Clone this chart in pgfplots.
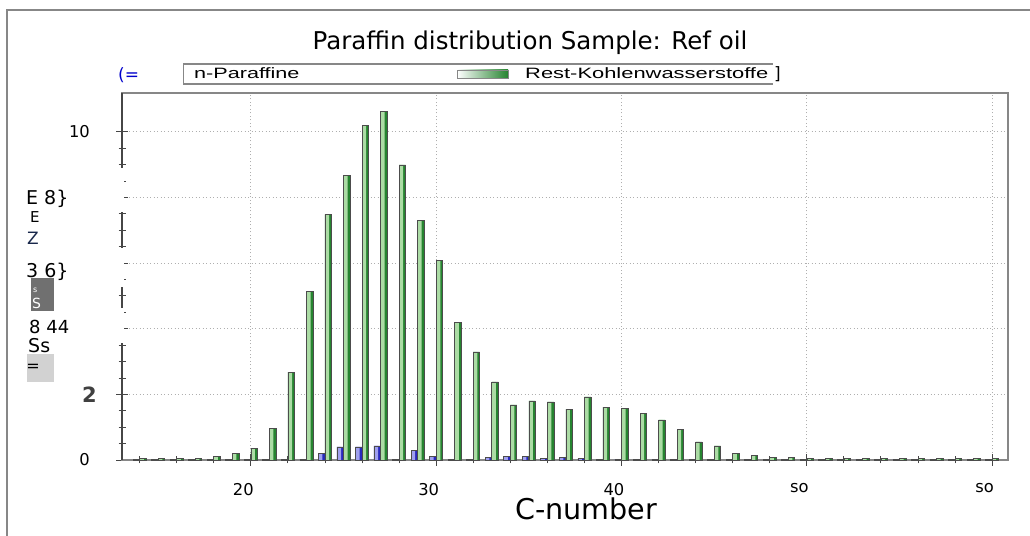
\documentclass[border=0pt]{standalone}
\usepackage{pgfplots}
\pgfplotsset{compat=1.18}
\usepackage{pgfplotstable}
\usepackage{fontspec}
\setmainfont{DejaVu Sans}
\newfontfamily\legfont{Liberation Sans}
\definecolor{gridgray}{RGB}{175,175,175}
\definecolor{framegray}{RGB}{135,135,135}
\definecolor{axdark}{RGB}{70,70,70}
\definecolor{barGreenL}{RGB}{172,220,165}
\definecolor{barGreenD}{RGB}{38,132,48}
\definecolor{barBlueL}{RGB}{160,160,238}
\definecolor{barBlueD}{RGB}{40,40,190}
\definecolor{boxdark}{RGB}{112,112,112}
\definecolor{boxlight}{RGB}{210,210,210}
\definecolor{navy}{RGB}{25,40,75}

\pgfplotstableread{
C  blue  green
14 0.02 0.05
15 0.02 0.04
16 0.02 0.05
17 0.02 0.06
18 0.03 0.10
19 0.03 0.20
20 0.03 0.35
21 0.02 0.97
22 0.02 2.68
23 0.02 5.14
24 0.20 7.48
25 0.40 8.66
26 0.40 10.19
27 0.43 10.62
28 0.02 8.99
29 0.30 7.31
30 0.10 6.09
31 0.03 4.20
32 0.02 3.29
33 0.08 2.38
34 0.10 1.68
35 0.10 1.80
36 0.05 1.77
37 0.08 1.55
38 0.04 1.92
39 0.03 1.61
40 0.03 1.58
41 0.02 1.43
42 0.02 1.22
43 0.02 0.94
44 0.02 0.55
45 0.02 0.43
46 0.02 0.21
47 0.02 0.13
48 0.02 0.08
49 0.02 0.07
50 0.02 0.05
51 0.02 0.04
52 0.02 0.04
53 0.02 0.04
54 0.02 0.04
55 0.02 0.04
56 0.02 0.04
57 0.02 0.04
58 0.02 0.04
59 0.02 0.04
60 0.02 0.04
}\paraffin

\begin{document}
\begin{tikzpicture}[x=1bp,y=1bp]
\useasboundingbox (0,0) rectangle (1030,536);
\fill[white] (0,0) rectangle (1030,536);
\draw[framegray, line width=1.5bp] (7,-5) -- (7,526) -- (1040,526);
\begin{axis}[
  at={(122bp,76bp)}, anchor=south west,
  scale only axis, width=886bp, height=367bp,
  xmin=13.05, xmax=60.86, ymin=0, ymax=11.18,
  ybar, bar width=0.35,
  xtick={10,20,...,60}, xticklabels={,20,30,40,so,so},
  minor x tick num=4,
  ytick={0,2,...,10},
  yticklabels={0,{\fontsize{21bp}{21bp}\bfseries\color{black!75}2\kern-7bp},,,,10},
  minor y tick num=3,
  tick align=center,
  major tick length=12bp, minor tick length=7bp,
  xtick pos=bottom, ytick pos=left,
  xmajorgrids, ymajorgrids,
  grid style={gridgray, dash pattern=on 1.2bp off 2.3bp, line width=0.8bp},
  axis line style={framegray, line width=1.3bp},
  tick style={axdark, line width=0.8bp},
  xticklabel style={font=\fontsize{16.3bp}{16bp}\selectfont, inner sep=0pt, xshift=-7.5bp, yshift=-17bp},
  yticklabel style={font=\fontsize{16.3bp}{16bp}\selectfont, inner sep=0pt, anchor=east, xshift=-26bp},
  /pgf/number format/assume math mode=true,
  clip=false,
]
% n-Paraffine: dark body, light left half, outline
\addplot[bar shift=-0.178, bar width=0.35, fill=barBlueD, draw=none]
  table[x=C, y=blue]{\paraffin};
\addplot[bar shift=-0.232, bar width=0.20, fill=barBlueL, draw=none]
  table[x=C, y=blue]{\paraffin};
\addplot[bar shift=-0.178, bar width=0.35, fill=none, draw=black!70, line width=0.6bp]
  table[x=C, y=blue]{\paraffin};
% Rest-Kohlenwasserstoffe: dark body, light left half, outline
\addplot[bar shift=0.178, bar width=0.35, fill=barGreenD, draw=none]
  table[x=C, y=green]{\paraffin};
\addplot[bar shift=0.124, bar width=0.20, fill=barGreenL, draw=none]
  table[x=C, y=green]{\paraffin};
\addplot[bar shift=0.178, bar width=0.35, fill=none, draw=black!70, line width=0.6bp]
  table[x=C, y=green]{\paraffin};
\end{axis}
% darker left axis line, as in the scan
\draw[axdark, line width=1.3bp] (122,76) -- (122,443);
% gaps of the scanned y axis
\fill[white] (106,324) rectangle (124,368);
\fill[white] (106,249) rectangle (124,288);
\fill[white] (106,193) rectangle (124,228);
% title and axis label
\node[anchor=base, inner sep=0pt, font=\fontsize{24.5bp}{26bp}\selectfont] at (530,486) {Paraffin distribution Sample: Ref oil};
\node[anchor=base, inner sep=0pt, font=\fontsize{28.6bp}{30bp}\selectfont] at (586,16) {C-number};
% legend
\draw[framegray, line width=1.8bp] (183,472) -- (773,472);
\draw[framegray, line width=1.2bp] (183,452) -- (773,452);
\draw[framegray, line width=0.8bp] (183,452) -- (183,472);
\node[anchor=base west, inner sep=0pt, font=\legfont\fontsize{15bp}{16bp}\selectfont] at (194,457) {\scalebox{1.44}[1]{n-Paraffine}};
\shade[left color=white, right color=barGreenD, draw=framegray, line width=0.6bp] (457,458) rectangle (508,466);
\node[anchor=base west, inner sep=0pt, font=\legfont\fontsize{15bp}{16bp}\selectfont] at (525,457) {\scalebox{1.46}[1]{Rest-Kohlenwasserstoffe}};
\node[anchor=base west, inner sep=0pt, font=\fontsize{17bp}{18bp}\selectfont] at (774,456) {]};
\node[anchor=base west, inner sep=0pt, font=\fontsize{17bp}{18bp}\selectfont, text=blue!80!black] at (118,455) {(=};
% scanned-label remnants on the left
\node[anchor=base west, inner sep=0pt, font=\fontsize{19bp}{20bp}\selectfont] at (26,331) {E 8\}};
\node[anchor=base west, inner sep=0pt, font=\fontsize{15bp}{16bp}\selectfont] at (30,313) {E};
\node[anchor=base west, inner sep=0pt, font=\fontsize{17bp}{18bp}\selectfont, text=navy] at (27,291) {Z};
\node[anchor=base west, inner sep=0pt, font=\fontsize{19bp}{20bp}\selectfont] at (26,258) {3 6\}};
\fill[boxdark] (31,225) rectangle (54,258);
\node[anchor=base west, inner sep=0pt, font=\fontsize{14bp}{14bp}\selectfont, text=white] at (32,227) {S};
\node[anchor=base west, inner sep=0pt, font=\fontsize{8bp}{8bp}\selectfont, text=white] at (33,243) {s};
\node[anchor=base west, inner sep=0pt, font=\fontsize{18bp}{18bp}\selectfont] at (29,202) {8 44};
\node[anchor=base west, inner sep=0pt, font=\fontsize{19bp}{19bp}\selectfont] at (28,183) {Ss};
\fill[boxlight] (27,154) rectangle (54,182);
\node[anchor=center, inner sep=0pt, font=\fontsize{16bp}{16bp}\selectfont] at (33,168) {=};
\end{tikzpicture}
\end{document}
